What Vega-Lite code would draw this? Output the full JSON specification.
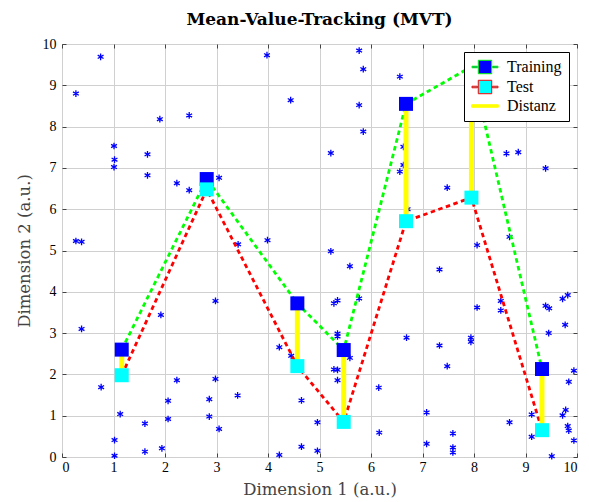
{
  "$schema": "https://vega.github.io/schema/vega-lite/v6.json",
  "width": 515,
  "height": 413,
  "autosize": "none",
  "padding": {"left": 62, "top": 44, "right": 12, "bottom": 45},
  "background": "white",
  "title": {"text": "Mean-Value-Tracking (MVT)", "font": "DejaVu Serif", "fontSize": 17, "fontWeight": "bold", "offset": 8, "color": "#000000"},
  "config": {
    "view": {"stroke": "#333333", "strokeWidth": 1},
    "font": "Liberation Serif"
  },
  "datasets": {
    "stars": [
      {"x":0.75,"y":9.69},{"x":0.27,"y":8.80},{"x":1.90,"y":8.18},{"x":2.47,"y":8.27},{"x":1.01,"y":7.53},{"x":1.66,"y":7.33},{"x":1.02,"y":7.20},{"x":1.01,"y":7.02},{"x":1.66,"y":6.82},{"x":3.05,"y":6.76},
      {"x":3.98,"y":9.73},{"x":5.77,"y":9.84},{"x":5.85,"y":9.39},{"x":6.56,"y":9.21},{"x":4.44,"y":8.64},{"x":5.77,"y":8.52},{"x":5.85,"y":7.88},{"x":5.22,"y":7.36},{"x":6.63,"y":7.51},{"x":6.63,"y":7.07},{"x":6.56,"y":6.91},
      {"x":8.63,"y":7.35},{"x":8.86,"y":7.38},{"x":9.39,"y":6.99},
      {"x":2.23,"y":6.63},{"x":2.47,"y":6.46},{"x":0.27,"y":5.23},{"x":0.38,"y":5.21},{"x":2.98,"y":3.78},{"x":1.92,"y":3.44},
      {"x":3.42,"y":5.15},{"x":3.99,"y":5.25},{"x":5.22,"y":4.98},{"x":5.59,"y":4.62},{"x":5.35,"y":3.79},{"x":5.28,"y":3.72},{"x":5.77,"y":3.84},{"x":6.71,"y":6.00},
      {"x":7.48,"y":6.52},{"x":8.06,"y":5.13},{"x":8.69,"y":5.33},{"x":7.33,"y":4.54},{"x":8.06,"y":3.62},{"x":8.52,"y":3.78},{"x":8.52,"y":3.55},{"x":9.39,"y":3.66},{"x":9.46,"y":3.60},{"x":9.72,"y":3.83},{"x":9.82,"y":3.92},
      {"x":0.38,"y":3.10},{"x":0.76,"y":1.69},{"x":2.23,"y":1.86},{"x":2.98,"y":1.89},{"x":2.06,"y":1.36},{"x":2.86,"y":1.40},{"x":1.13,"y":1.04},{"x":1.61,"y":0.81},{"x":2.06,"y":0.92},{"x":2.86,"y":0.98},{"x":3.05,"y":0.68},{"x":1.02,"y":0.41},{"x":1.61,"y":0.13},{"x":1.94,"y":0.21},{"x":1.02,"y":0.03},
      {"x":5.35,"y":2.99},{"x":5.35,"y":2.92},{"x":6.69,"y":2.89},{"x":4.22,"y":2.66},{"x":4.45,"y":2.45},{"x":5.59,"y":2.40},{"x":5.28,"y":2.12},{"x":5.35,"y":2.11},{"x":5.35,"y":1.86},{"x":6.15,"y":1.68},{"x":3.41,"y":1.49},{"x":4.65,"y":1.37},{"x":4.96,"y":0.84},{"x":6.16,"y":0.59},{"x":4.65,"y":0.25},{"x":4.96,"y":0.15},{"x":4.22,"y":0.05},
      {"x":7.94,"y":2.89},{"x":7.94,"y":2.79},{"x":7.33,"y":2.70},{"x":7.48,"y":2.20},{"x":9.45,"y":3.00},{"x":9.77,"y":3.20},{"x":9.94,"y":2.09},{"x":9.84,"y":1.82},{"x":7.08,"y":1.08},{"x":8.69,"y":0.84},{"x":9.12,"y":1.03},{"x":9.72,"y":1.01},{"x":9.78,"y":1.14},{"x":9.82,"y":0.75},{"x":9.84,"y":0.64},{"x":9.94,"y":0.40},{"x":9.12,"y":0.49},{"x":7.08,"y":0.32},{"x":7.59,"y":0.57},{"x":7.59,"y":0.23},{"x":7.59,"y":0.11},{"x":9.51,"y":0.02}
    ],
    "mvt": [
      {"step":1,"x":1.16,"Training":2.60,"Test":1.98},
      {"step":2,"x":2.81,"Training":6.73,"Test":6.48},
      {"step":3,"x":4.57,"Training":3.72,"Test":2.20},
      {"step":4,"x":5.47,"Training":2.59,"Test":0.85},
      {"step":5,"x":6.68,"Training":8.55,"Test":5.71},
      {"step":6,"x":7.95,"Training":9.45,"Test":6.28},
      {"step":7,"x":9.32,"Training":2.13,"Test":0.65}
    ]
  },
  "layer": [
    {
      "data": {"name": "stars"},
      "mark": {"type": "point", "shape": "M0,-1V1M-0.87,-0.5L0.87,0.5M-0.87,0.5L0.87,-0.5", "filled": false, "stroke": "#0000ff", "strokeWidth": 1.3, "size": 45, "opacity": 1},
      "encoding": {
        "x": {"field": "x", "type": "quantitative", "scale": {"domain": [0, 10], "nice": false},
          "axis": {"orient": "bottom", "values": [0,1,2,3,4,5,6,7,8,9,10], "grid": true, "gridColor": "#d0d0d0", "gridWidth": 1, "domain": false, "tickSize": -4, "tickColor": "#444444", "labelPadding": 7, "labelFont": "Liberation Serif", "labelFontSize": 14, "labelColor": "#000000", "title": "Dimension 1 (a.u.)", "titleFont": "DejaVu Serif", "titleFontSize": 16.5, "titleFontWeight": "normal", "titleColor": "#444444", "titlePadding": 7}},
        "y": {"field": "y", "type": "quantitative", "scale": {"domain": [0, 10], "nice": false},
          "axis": {"orient": "left", "values": [0,1,2,3,4,5,6,7,8,9,10], "grid": true, "gridColor": "#d0d0d0", "gridWidth": 1, "domain": false, "tickSize": -4, "tickColor": "#444444", "labelPadding": 10, "labelFont": "Liberation Serif", "labelFontSize": 14, "labelColor": "#000000", "title": "Dimension 2 (a.u.)", "titleFont": "DejaVu Serif", "titleFontSize": 16.5, "titleFontWeight": "normal", "titleColor": "#444444", "titlePadding": 10}}
      }
    },
    {
      "data": {"name": "mvt"},
      "transform": [{"fold": ["Training", "Test"], "as": ["series", "y"]}],
      "mark": {"type": "line", "strokeWidth": 2.8, "strokeDash": [4.5, 3.5]},
      "encoding": {
        "x": {"field": "x", "type": "quantitative", "scale": {"domain": [0, 10], "nice": false},
          "axis": {"orient": "top", "values": [0,1,2,3,4,5,6,7,8,9,10], "grid": false, "labels": false, "domain": false, "tickSize": -4, "tickColor": "#444444", "title": null}},
        "y": {"field": "y", "type": "quantitative", "scale": {"domain": [0, 10], "nice": false},
          "axis": {"orient": "right", "values": [0,1,2,3,4,5,6,7,8,9,10], "grid": false, "labels": false, "domain": false, "tickSize": -4, "tickColor": "#444444", "title": null}},
        "stroke": {"field": "series", "type": "nominal",
          "scale": {"domain": ["Training", "Test", "Distanz"], "range": ["#00ff00", "#ff0000", "#ffff00"]},
          "legend": {
            "title": null, "orient": "top-right", "offset": 8, "padding": 7,
            "strokeColor": "#000000", "fillColor": "#ffffff", "cornerRadius": 0,
            "labelFont": "Liberation Serif", "labelFontSize": 16, "labelColor": "#000000", "labelOffset": 14,
            "symbolSize": 196, "symbolOffset": 6, "symbolStrokeWidth": 1, "rowPadding": 2,
            "encoding": {
              "symbols": {
                "fill": {"condition": [{"test": "datum.value === 'Training'", "value": "#0000ff"}, {"test": "datum.value === 'Test'", "value": "#00ffff"}], "value": "#ffff00"},
                "shape": {"condition": {"test": "datum.value === 'Distanz'", "value": "M-1.9,-0.18H1.9V0.18H-1.9Z"}, "value": "M-1.86,-0.11H-1.08V0.11H-1.86Z M-0.96,-0.96H0.96V0.96H-0.96Z M1.08,-0.11H1.86V0.11H1.08Z"},
                "strokeWidth": {"value": 1},
                "strokeDash": {"value": []},
                "opacity": {"value": 1}
              }
            }
          }
        }
      }
    },
    {
      "data": {"name": "mvt"},
      "mark": {"type": "rule", "color": "#ffff00", "strokeWidth": 5},
      "encoding": {
        "x": {"field": "x", "type": "quantitative", "scale": {"domain": [0, 10], "nice": false}, "axis": null},
        "y": {"field": "Training", "type": "quantitative", "scale": {"domain": [0, 10], "nice": false}, "axis": null},
        "y2": {"field": "Test"}
      }
    },
    {
      "data": {"name": "mvt"},
      "mark": {"type": "point", "shape": "square", "filled": true, "fill": "#0000ff", "size": 196, "opacity": 1},
      "encoding": {
        "x": {"field": "x", "type": "quantitative", "scale": {"domain": [0, 10], "nice": false}, "axis": null},
        "y": {"field": "Training", "type": "quantitative", "scale": {"domain": [0, 10], "nice": false}, "axis": null}
      }
    },
    {
      "data": {"name": "mvt"},
      "mark": {"type": "point", "shape": "square", "filled": true, "fill": "#00ffff", "size": 196, "opacity": 1},
      "encoding": {
        "x": {"field": "x", "type": "quantitative", "scale": {"domain": [0, 10], "nice": false}, "axis": null},
        "y": {"field": "Test", "type": "quantitative", "scale": {"domain": [0, 10], "nice": false}, "axis": null}
      }
    }
  ],
  "resolve": {"axis": {"x": "independent", "y": "independent"}}
}
